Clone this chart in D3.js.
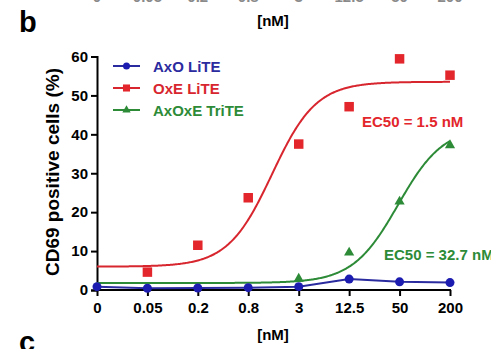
<!DOCTYPE html>
<html>
<head>
<meta charset="utf-8">
<script src="https://cdn.jsdelivr.net/npm/d3@7/dist/d3.min.js"></script>
<style>
  html, body { margin: 0; padding: 0; background: #fff; }
  svg { display: block; font-family: "Liberation Sans", Arial, sans-serif; font-weight: bold; }
</style>
</head>
<body>
<svg id="chart" width="491" height="349"></svg>
<script>
// Doses (nM), four-fold serial dilution from 200; 0 is the untreated control
const doses = [0, 0.0488, 0.195, 0.78, 3.125, 12.5, 50, 200];
const doseLabels = ["0", "0.05", "0.2", "0.8", "3", "12.5", "50", "200"];
const yTicks = [0, 10, 20, 30, 40, 50, 60];

// % CD69 positive cells per construct (null = hidden under another marker)
const axoLiTE   = [0.85, 0.45, 0.5, 0.6, 0.85, 2.8, 2.1, 1.9];
const oxeLiTE   = [null, 4.6, 11.5, 23.7, 37.5, 47.1, 59.4, 55.2];
const axoxeTriTE = [null, null, null, null, 2.9, 9.6, 22.7, 37.2];

// Four-parameter logistic fits: bottom, top, midpoint (nM), Hill slope
const oxeFit   = [6.0, 53.5, 1.5, 1.65];
const triteFit = [1.8, 42, 48, 1.6];

const seriesNames = ["AxO LiTE", "OxE LiTE", "AxOxE TriTE"];
const ec50Labels = ["EC50 = 1.5 nM", "EC50 = 32.7 nM"];

const colors = { blue: "#1c1cb0", blueLine: "#2b2ba0", red: "#e3262b", redLine: "#d8262f", green: "#2d8b38" };

const svg = d3.select("#chart");
const zeroDose = 200 / Math.pow(4, 7);   // slot where the 0 control sits on the log axis

const x = d3.scaleLog().domain([zeroDose, 200]).range([97, 450]);
const y = d3.scaleLinear().domain([0, 60]).range([290, 56.5]);
const xPos = d => x(Math.max(d, zeroDose));

// Panel letters and the edge of the neighbouring panels
svg.append("text").attr("x", 19).attr("y", 32).attr("font-size", 29).text("b");
svg.append("text").attr("x", 19).attr("y", 352).attr("font-size", 29).text("c");
svg.append("text").attr("x", 273).attr("y", 26).attr("text-anchor", "middle").attr("font-size", 15).text("[nM]");
svg.append("g").selectAll("text").data(doses).join("text")
  .attr("x", d => xPos(d)).attr("y", 1.5).attr("text-anchor", "middle")
  .attr("font-size", 15).attr("fill", "#8a8a8a").text((d, i) => doseLabels[i]);

// Axes
const xAxis = d3.axisBottom(x).tickValues(doses.map(d => Math.max(d, zeroDose)))
  .tickFormat((d, i) => doseLabels[i]).tickSizeOuter(0).tickSize(6).tickPadding(6);
const gx = svg.append("g").attr("transform", `translate(0,${y(0)})`).call(xAxis);
const yAxis = d3.axisLeft(y).tickValues(yTicks).tickSizeOuter(0).tickSize(6).tickPadding(3);
const gy = svg.append("g").attr("transform", `translate(${x(zeroDose)},0)`).call(yAxis);
[gx, gy].forEach(g => {
  g.select(".domain").attr("stroke", "#000").attr("stroke-width", 2);
  g.selectAll(".tick line").attr("stroke", "#000").attr("stroke-width", 2);
  g.selectAll(".tick text").attr("font-size", 15).attr("font-weight", "bold")
    .attr("font-family", "Liberation Sans, Arial, sans-serif").attr("fill", "#000");
});
gx.select(".domain").attr("d", `M${x(zeroDose) - 1},0H${x(200) + 1}`);

svg.append("text").attr("x", 273).attr("y", 340).attr("text-anchor", "middle").attr("font-size", 15).text("[nM]");
svg.append("text").attr("transform", "translate(59,172) rotate(-90)").attr("text-anchor", "middle")
  .attr("font-size", 19).text("CD69 positive cells (%)");

// Fitted curves
const logistic = ([bottom, top, mid, hill]) => c => bottom + (top - bottom) / (1 + Math.pow(mid / c, hill));
const curveDoses = d3.range(0, 7.001, 0.02).map(u => zeroDose * Math.pow(4, u));
const line = d3.line().x(d => x(d[0])).y(d => y(d[1]));
[[oxeFit, colors.redLine], [triteFit, colors.green]].forEach(([fit, col]) => {
  const f = logistic(fit);
  svg.append("path").datum(curveDoses.map(c => [c, f(c)]))
    .attr("d", line).attr("fill", "none").attr("stroke", col).attr("stroke-width", 2);
});

// AxO LiTE connected by straight segments
svg.append("path").datum(doses.map((d, i) => [Math.max(d, zeroDose), axoLiTE[i]]))
  .attr("d", line).attr("fill", "none").attr("stroke", colors.blueLine).attr("stroke-width", 2);

// Markers
const sq = d3.symbol().type(d3.symbolSquare).size(90);
const tri = d3.symbol().type(d3.symbolTriangle).size(45);
const pts = arr => doses.map((d, i) => [d, arr[i]]).filter(p => p[1] !== null);

svg.append("g").selectAll("path").data(pts(oxeLiTE)).join("path")
  .attr("transform", d => `translate(${xPos(d[0])},${y(d[1])})`).attr("d", sq).attr("fill", colors.red);
svg.append("g").selectAll("path").data(pts(axoxeTriTE)).join("path")
  .attr("transform", d => `translate(${xPos(d[0])},${y(d[1])})`).attr("d", tri).attr("fill", colors.green);
svg.append("g").selectAll("circle").data(pts(axoLiTE)).join("circle")
  .attr("cx", d => xPos(d[0])).attr("cy", d => y(d[1])).attr("r", 4.5).attr("fill", colors.blue);

// EC50 annotations
svg.append("text").attr("x", 362).attr("y", 127).attr("font-size", 15).attr("fill", colors.red).text(ec50Labels[0]);
svg.append("text").attr("x", 384).attr("y", 260).attr("font-size", 15).attr("fill", colors.green).text(ec50Labels[1]);

// Legend
const legend = [
  { name: seriesNames[0], col: colors.blue, line: colors.blueLine, mark: "circle" },
  { name: seriesNames[1], col: colors.red, line: colors.redLine, mark: "square" },
  { name: seriesNames[2], col: colors.green, line: colors.green, mark: "triangle" }
];
const lg = svg.append("g").selectAll("g").data(legend).join("g")
  .attr("transform", (d, i) => `translate(0,${66 + i * 22})`);
lg.append("line").attr("x1", 113).attr("x2", 140).attr("stroke", d => d.line).attr("stroke-width", 2);
lg.each(function (d) {
  const g = d3.select(this);
  if (d.mark === "circle") g.append("circle").attr("cx", 126.5).attr("r", 3.5).attr("fill", d.col);
  else g.append("path").attr("transform", "translate(126.5,0)")
    .attr("d", d3.symbol().type(d.mark === "square" ? d3.symbolSquare : d3.symbolTriangle).size(d.mark === "square" ? 50 : 30)())
    .attr("fill", d.col);
});
lg.append("text").attr("x", 153).attr("y", 5.5).attr("font-size", 15).attr("fill", d => d.line).text(d => d.name);
</script>
</body>
</html>
